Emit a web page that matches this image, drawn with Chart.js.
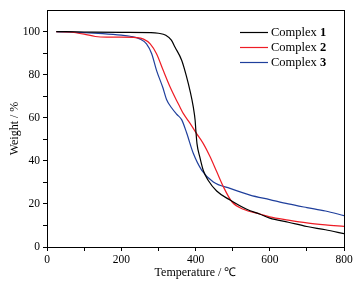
<!DOCTYPE html>
<html><head><meta charset="utf-8">
<script src="https://cdn.jsdelivr.net/npm/chart.js@4/dist/chart.umd.min.js"></script>
<style>html,body{margin:0;padding:0;background:#fff}#wrap{width:363px;height:284px}</style>
</head><body><div id="wrap"><canvas id="c" width="363" height="284"></canvas></div>
<script>
const seriesNames = ["Complex ", "Complex ", "Complex "];
const seriesNums = ["1", "2", "3"];
const temp1 = [25,100,200,280,300,320,335,345,363,376,385,394,399,401,404,412,421,434,457,493,538,574,600,650,700,750,800];
const weight1 = [100,99.8,99.6,99.5,99.2,98.3,96,92.7,86.6,79,72.7,65,58.8,54,48,41.5,35.5,31,26,21.8,17.5,15.2,13.4,11.5,9.5,8,6.2];
const temp2 = [25,60,100,130,160,200,240,260,278,295,313,331,349,358,367,385,403,421,439,457,475,498,529,574,600,650,700,750,800];
const weight2 = [100,99.8,98.8,97.7,97.4,97.4,97.2,96.5,94.3,89.7,82,74.5,68,65,62,57.5,52.6,48,42,35,28,21,17.5,15.3,14,12.5,11.2,10.3,9.6];
const temp3 = [25,100,150,200,224,250,268,282,295,312,322,336,350,363,376,394,417,448,493,547,600,650,700,750,800];
const weight3 = [100,99.5,99,98.3,97.8,96.6,94.3,89.7,82,74,68.5,64.5,61.5,59,53,43.5,35.6,30.2,27.2,24.1,22,20,18.3,16.7,14.6];
const colors = ["#000000", "#ee1c25", "#1f3f9c"];
const xTicks = [0,200,400,600,800];
const yTicks = [0,20,40,60,80,100];

function pts(t, w){ return t.map((v,i)=>({x:v,y:w[i]})); }
const datasets = [[temp1,weight1],[temp2,weight2],[temp3,weight3]].map((d,i)=>({
  label: seriesNames[i]+seriesNums[i], data: pts(d[0],d[1]), borderColor: colors[i],
  borderWidth: 1.2, pointRadius: 0, showLine: true, fill: false, cubicInterpolationMode: 'monotone'
}));
const serif = "'Liberation Serif', 'Times New Roman', serif";

const frame = {
  id: 'frame',
  afterDraw(chart){
    const {ctx, chartArea:a} = chart;
    ctx.save();
    ctx.strokeStyle = '#000'; ctx.lineWidth = 1;
    ctx.strokeRect(Math.round(a.left)+0.5, Math.round(a.top)+0.5, Math.round(a.right-a.left), Math.round(a.bottom-a.top));
    const lx1 = 240, lx2 = 268, rows = [32, 47, 62];
    rows.forEach((y,i)=>{
      ctx.strokeStyle = colors[i]; ctx.lineWidth = 1.2;
      ctx.beginPath(); ctx.moveTo(lx1, y+0.5); ctx.lineTo(lx2, y+0.5); ctx.stroke();
      ctx.fillStyle = '#000'; ctx.textBaseline = 'middle'; ctx.textAlign = 'left';
      ctx.font = "12.5px " + serif;
      ctx.fillText(seriesNames[i], 271, y+1);
      const w = ctx.measureText(seriesNames[i]).width;
      ctx.font = "bold 12.5px " + serif;
      ctx.fillText(seriesNums[i], 271 + w, y+1);
    });
    ctx.restore();
  }
};

new Chart(document.getElementById('c'), {
  type: 'scatter',
  data: { datasets },
  options: {
    responsive: false, animation: false, devicePixelRatio: 1,
    layout: { padding: { top: 10, right: 19, left: 0, bottom: 0 } },
    plugins: { legend: { display: false }, tooltip: { enabled: false } },
    scales: {
      x: {
        type: 'linear', min: 0, max: 800,
        afterFit(s){ s.height = 37; },
        ticks: { stepSize: 100, color: '#000', font: { family: serif, size: 11.5 }, padding: 2, maxRotation: 0,
          callback: v => xTicks.includes(v) ? String(v) : '' },
        grid: { drawOnChartArea: false, drawTicks: true, tickLength: 4, tickColor: '#000', tickWidth: 1 },
        border: { color: '#000', width: 1 },
        title: { display: true, text: 'Temperature / ℃', color: '#000', font: { family: serif, size: 12 }, padding: { top: 0, bottom: 4 } }
      },
      y: {
        type: 'linear', min: 0, max: 110,
        afterFit(s){ s.width = 47; },
        ticks: { stepSize: 10, color: '#000', font: { family: serif, size: 11.5 }, padding: 3,
          callback: v => yTicks.includes(v) ? String(v) : '' },
        grid: { drawOnChartArea: false, drawTicks: true, tickLength: 4,
          tickColor: c => (c.tick && c.tick.value === 110) ? 'rgba(0,0,0,0)' : '#000', tickWidth: 1 },
        border: { color: '#000', width: 1 },
        title: { display: true, text: 'Weight / %', color: '#000', font: { family: serif, size: 12 }, padding: { top: 8, bottom: 2 } }
      }
    }
  },
  plugins: [frame]
});
</script></body></html>
